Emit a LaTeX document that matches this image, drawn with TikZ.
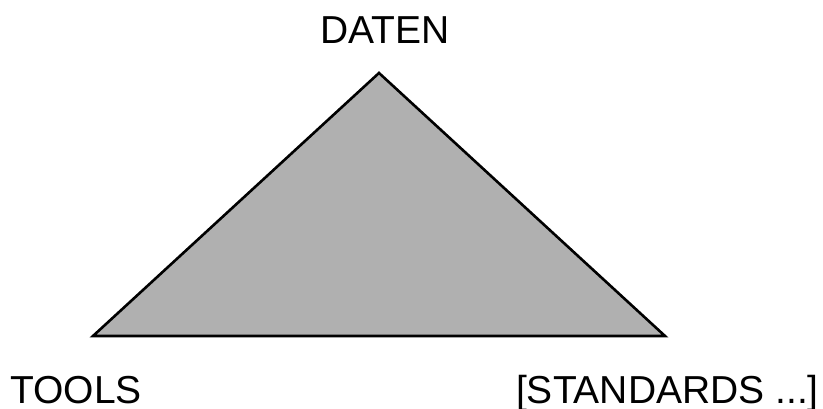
\documentclass[tikz,border=0pt]{standalone}
\usepackage{fontspec}
\setmainfont{Liberation Sans}
\begin{document}
\begin{tikzpicture}[x=1pt,y=1pt,
  lbl/.style={inner sep=0pt,font=\fontsize{39}{42}\selectfont},
  tri/.style={draw=black,fill=black!31,line width=2.6pt,line join=miter}]
\useasboundingbox (0,0) rectangle (823,409);
\coordinate (top) at (379,336);
\coordinate (left) at (93,73);
\coordinate (right) at (665,73);
\draw[tri] (top) -- (right) -- (left) -- cycle;
\node[lbl,anchor=base] (daten) at (385,365) {DATEN};
\node[lbl,anchor=base west] (tools) at (10,5) {TOOLS};
\node[lbl,anchor=base east] (std) at (819,5) {[STANDARDS ...]};
\end{tikzpicture}
\end{document}
